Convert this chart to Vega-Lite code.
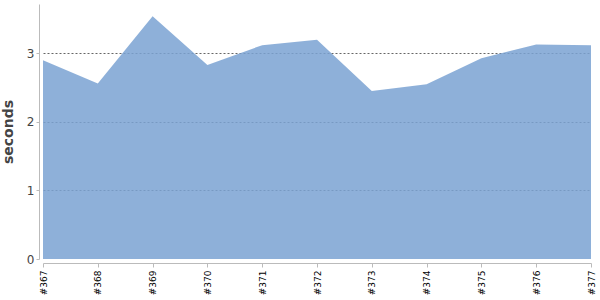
{
  "$schema": "https://vega.github.io/schema/vega-lite/v6.json",
  "autosize": "none",
  "width": 548,
  "height": 255,
  "padding": {"left": 43, "top": 4, "right": 9, "bottom": 41},
  "config": {"view": {"stroke": null}, "font": "DejaVu Sans"},
  "data": {"values": [
    {"build": "#367", "seconds": 2.90},
    {"build": "#368", "seconds": 2.56},
    {"build": "#369", "seconds": 3.54},
    {"build": "#370", "seconds": 2.83},
    {"build": "#371", "seconds": 3.12},
    {"build": "#372", "seconds": 3.20},
    {"build": "#373", "seconds": 2.45},
    {"build": "#374", "seconds": 2.55},
    {"build": "#375", "seconds": 2.93},
    {"build": "#376", "seconds": 3.13},
    {"build": "#377", "seconds": 3.12}
  ]},
  "mark": {"type": "area", "color": "#7aa2d2", "opacity": 0.85},
  "encoding": {
    "x": {
      "field": "build", "type": "ordinal",
      "scale": {"type": "point", "padding": 0},
      "axis": {
        "title": null, "labelAngle": -90, "labelFontSize": 9, "labelColor": "#000",
        "labelAlign": "right", "labelBaseline": "middle",
        "domainColor": "#bbb", "tickColor": "#bbb", "tickSize": 4, "offset": 4, "grid": false, "labelPadding": 3
      }
    },
    "y": {
      "field": "seconds", "type": "quantitative",
      "scale": {"domain": [0, 3.72], "nice": false},
      "axis": {
        "title": "seconds", "titleFontSize": 14, "titleFontWeight": "bold", "titleColor": "#444",
        "titlePadding": 11,
        "values": [0, 1, 2, 3], "labelFontSize": 12, "labelColor": "#444",
        "domainColor": "#bbb", "tickColor": "#bbb", "tickSize": 3, "offset": 4,
        "grid": true, "gridColor": "#666", "gridDash": [2, 2],
        "gridOpacity": {"condition": {"test": "datum.value === 0", "value": 0}, "value": 1}
      }
    }
  }
}
